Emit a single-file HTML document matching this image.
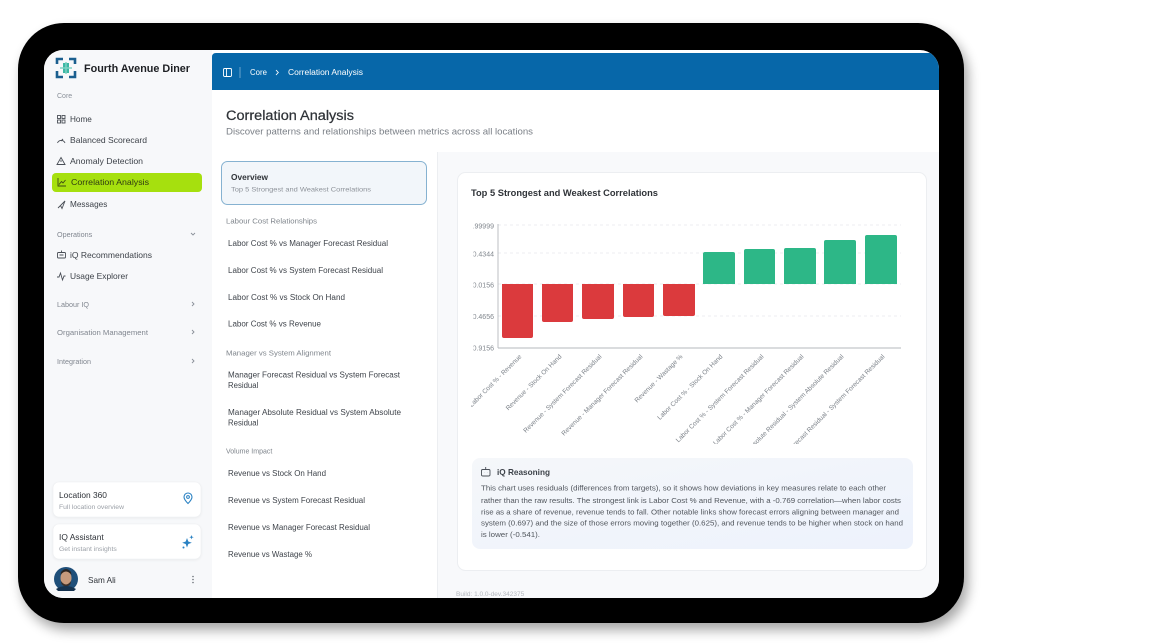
<!DOCTYPE html>
<html><head><meta charset="utf-8"><style>
html,body{margin:0;padding:0;background:#fff;width:1163px;height:643px;overflow:hidden}
svg{display:block}
text{font-family:"Liberation Sans",sans-serif}
</style></head><body>
<svg width="1163" height="643" viewBox="0 0 1163 643" xmlns="http://www.w3.org/2000/svg">
<defs>
<filter id="sh" x="-10%" y="-10%" width="120%" height="125%"><feGaussianBlur stdDeviation="6"/></filter>
<filter id="cs" x="-10%" y="-20%" width="120%" height="140%"><feGaussianBlur stdDeviation="1.5"/></filter>
<clipPath id="scr"><rect x="44" y="50" width="895" height="548" rx="19"/></clipPath>
<clipPath id="ylab"><rect x="473.5" y="200" width="40" height="160"/></clipPath>
<clipPath id="xlab"><rect x="471" y="350" width="450" height="94"/></clipPath>
<linearGradient id="rg" x1="0" y1="0" x2="1" y2="1"><stop offset="0" stop-color="#f5f7fa"/><stop offset="1" stop-color="#edf2fc"/></linearGradient>
</defs>

<!-- device shadow + frame -->
<rect x="22" y="30" width="946" height="600" rx="46" fill="#000" opacity="0.35" filter="url(#sh)"/>
<rect x="18" y="23" width="946" height="600" rx="46" fill="#000"/>

<g clip-path="url(#scr)">
<rect x="44" y="50" width="895" height="548" fill="#ffffff"/>
<rect x="44" y="50" width="168" height="548" fill="#f7f8fa"/>
<path d="M216 53 H939 V90 H212 V57 Q212 53 216 53 Z" fill="#0767a9"/>
<rect x="437" y="152" width="502" height="446" fill="#f8f9fb"/>
<line x1="437.5" y1="152" x2="437.5" y2="598" stroke="#eceef1"/>
</g>

<!-- Logo -->
<g>
<path d="M57 64 V59 H63 M69 59 H75 V64 M75 71 V77 H69 M63 77 H57 V71" fill="none" stroke="#1b5f8f" stroke-width="2.6"/>
<path d="M63 63 H69 V73 H63 Z" fill="#3bb7a4"/>
<path d="M60 68 H72 M66 62 V74" stroke="#7fd3c4" stroke-width="1.4"/>
</g>
<text x="84" y="72" font-size="11.2" font-weight="bold" fill="#1d1f23" textLength="106" lengthAdjust="spacingAndGlyphs">Fourth Avenue Diner</text>

<!-- sidebar nav -->
<text x="57" y="98" font-size="7" fill="#8a9099">Core</text>
<g fill="none" stroke="#4a4f57" stroke-width="0.9">
<rect x="57.5" y="115.5" width="3" height="3"/><rect x="62" y="115.5" width="3" height="3"/><rect x="57.5" y="120" width="3" height="3"/><rect x="62" y="120" width="3" height="3"/>
<path d="M57.5 143 A4 4 0 0 1 65 143 M61 141 L63 139"/>
<path d="M61 157.5 L65 164.5 H57 Z M61 160 V162"/>
<path d="M58 208 L65 201 L62 208.5 L60.5 205.5 Z M60.5 205.5 L65 201"/>
<rect x="57.5" y="252.5" width="8" height="5.5" rx="1"/><path d="M61.5 250.5 V252.5 M59.5 255 H63.5"/>
<path d="M57 277 L59 277 L60.5 273 L62.5 280 L64 276 L65.5 276"/>
</g>
<g font-size="8.2" fill="#3d4249">
<text x="70" y="122">Home</text>
<text x="70" y="143" textLength="77" lengthAdjust="spacingAndGlyphs">Balanced Scorecard</text>
<text x="70" y="164" textLength="73" lengthAdjust="spacingAndGlyphs">Anomaly Detection</text>
<text x="70" y="207">Messages</text>
<text x="70" y="258" textLength="82" lengthAdjust="spacingAndGlyphs">iQ Recommendations</text>
<text x="70" y="279" textLength="58" lengthAdjust="spacingAndGlyphs">Usage Explorer</text>
</g>
<rect x="52" y="173" width="150" height="19" rx="4" fill="#a6e00e"/>
<path d="M58 178 V186 H66 M59 184.5 L61.5 181.5 L63 183 L65.5 180" fill="none" stroke="#3c4a14" stroke-width="0.9"/>
<text x="71" y="185" font-size="8.2" fill="#2f3a12" textLength="78" lengthAdjust="spacingAndGlyphs">Correlation Analysis</text>

<g font-size="7.2" fill="#80868f">
<text x="57" y="237">Operations</text>
<text x="57" y="307">Labour IQ</text>
<text x="57" y="335" textLength="91" lengthAdjust="spacingAndGlyphs">Organisation Management</text>
<text x="57" y="364">Integration</text>
</g>
<g fill="none" stroke="#8a9099" stroke-width="0.9">
<path d="M191 233 L193 235 L195 233"/>
<path d="M192 302 L194 304 L192 306"/>
<path d="M192 330 L194 332 L192 334"/>
<path d="M192 359 L194 361 L192 363"/>
</g>

<!-- sidebar cards -->
<rect x="53" y="483" width="148" height="35" rx="6" fill="#000" opacity="0.06" filter="url(#cs)"/>
<rect x="53" y="482" width="148" height="35" rx="6" fill="#fff" stroke="#eef0f2" stroke-width="0.6"/>
<text x="59" y="498" font-size="8.4" fill="#2e3238">Location 360</text>
<text x="59" y="509" font-size="6.8" fill="#9ca1a8">Full location overview</text>
<path d="M188 503.5 C184.5 500 184 498.5 184 497 A4 4 0 0 1 192 497 C192 498.5 191.5 500 188 503.5 Z" fill="none" stroke="#2b82c3" stroke-width="1.1"/>
<circle cx="188" cy="497" r="1.4" fill="none" stroke="#2b82c3" stroke-width="1"/>
<rect x="53" y="525" width="148" height="35" rx="6" fill="#000" opacity="0.06" filter="url(#cs)"/>
<rect x="53" y="524" width="148" height="35" rx="6" fill="#fff" stroke="#eef0f2" stroke-width="0.6"/>
<text x="59" y="540" font-size="8.4" fill="#2e3238">IQ Assistant</text>
<text x="59" y="551" font-size="6.8" fill="#9ca1a8">Get instant insights</text>
<g fill="#2b82c3">
<path d="M187 538 L188.3 541.5 L191.8 542.8 L188.3 544 L187 547.5 L185.7 544 L182.2 542.8 L185.7 541.5 Z"/>
<path d="M191.5 535 L192.1 536.6 L193.7 537.2 L192.1 537.8 L191.5 539.4 L190.9 537.8 L189.3 537.2 L190.9 536.6 Z"/>
<circle cx="183.5" cy="547.5" r="1"/>
</g>

<!-- user -->
<circle cx="66" cy="579" r="12" fill="#1f4f7a"/>
<ellipse cx="66" cy="578" rx="5.5" ry="7" fill="#c79a7c"/>
<path d="M60.5 575 Q66 568 71.5 575 L71 572 Q66 566 61 572 Z" fill="#2b2522"/>
<path d="M61 581 Q66 588 71 581 L70.5 584 Q66 589 61.5 584 Z" fill="#3a302c"/>
<path d="M56 589 Q66 583 76 589 L74 591 H58 Z" fill="#15324f"/>
<text x="88" y="583" font-size="8.2" fill="#2e3238">Sam Ali</text>
<g fill="#6b7078"><circle cx="193" cy="576.5" r="0.8"/><circle cx="193" cy="579.5" r="0.8"/><circle cx="193" cy="582.5" r="0.8"/></g>

<!-- header content -->
<g fill="none" stroke="#fff" stroke-width="0.9">
<rect x="223.5" y="68.5" width="8" height="8" rx="1.2"/>
<line x1="226.5" y1="68.5" x2="226.5" y2="76.5"/>
</g>
<line x1="240" y1="67" x2="240" y2="78" stroke="#fff" stroke-opacity="0.5" stroke-width="0.8"/>
<text x="250" y="75" font-size="7.8" fill="#fff">Core</text>
<path d="M276 70 L278.3 72.5 L276 75" fill="none" stroke="#fff" stroke-width="0.9"/>
<text x="288" y="75" font-size="7.8" fill="#fff" textLength="75" lengthAdjust="spacingAndGlyphs">Correlation Analysis</text>

<!-- page title -->
<text x="226" y="120" font-size="14.2" fill="#2f3338" textLength="128" lengthAdjust="spacingAndGlyphs" stroke="#2f3338" stroke-width="0.25">Correlation Analysis</text>
<text x="226" y="134.5" font-size="9.4" fill="#7a7f86" textLength="307" lengthAdjust="spacingAndGlyphs">Discover patterns and relationships between metrics across all locations</text>

<!-- list panel -->
<rect x="221.5" y="161.5" width="205" height="43" rx="6" fill="#f2f6fa" stroke="#86b2d1" stroke-width="1"/>
<text x="231" y="180" font-size="8.4" font-weight="bold" fill="#2f3338" textLength="37" lengthAdjust="spacingAndGlyphs">Overview</text>
<text x="231" y="191.5" font-size="6.8" fill="#8d9299" textLength="140" lengthAdjust="spacingAndGlyphs">Top 5 Strongest and Weakest Correlations</text>

<g font-size="7" fill="#7f858c">
<text x="226" y="223.5" textLength="91" lengthAdjust="spacingAndGlyphs">Labour Cost Relationships</text>
<text x="226" y="355.5" textLength="105" lengthAdjust="spacingAndGlyphs">Manager vs System Alignment</text>
<text x="226" y="453.5">Volume Impact</text>
</g>
<g font-size="7.8" fill="#3f444b">
<text x="228" y="245.8" textLength="160" lengthAdjust="spacingAndGlyphs">Labor Cost % vs Manager Forecast Residual</text>
<text x="228" y="272.8" textLength="155" lengthAdjust="spacingAndGlyphs">Labor Cost % vs System Forecast Residual</text>
<text x="228" y="299.8" textLength="117" lengthAdjust="spacingAndGlyphs">Labor Cost % vs Stock On Hand</text>
<text x="228" y="326.3" textLength="93" lengthAdjust="spacingAndGlyphs">Labor Cost % vs Revenue</text>
<text x="228" y="377.3" textLength="172" lengthAdjust="spacingAndGlyphs">Manager Forecast Residual vs System Forecast</text>
<text x="228" y="387.8">Residual</text>
<text x="228" y="414.8" textLength="173" lengthAdjust="spacingAndGlyphs">Manager Absolute Residual vs System Absolute</text>
<text x="228" y="425.3">Residual</text>
<text x="228" y="475.8" textLength="98" lengthAdjust="spacingAndGlyphs">Revenue vs Stock On Hand</text>
<text x="228" y="502.8" textLength="137" lengthAdjust="spacingAndGlyphs">Revenue vs System Forecast Residual</text>
<text x="228" y="529.8" textLength="142" lengthAdjust="spacingAndGlyphs">Revenue vs Manager Forecast Residual</text>
<text x="228" y="556.8" textLength="84" lengthAdjust="spacingAndGlyphs">Revenue vs Wastage %</text>
</g>

<!-- chart card -->
<rect x="457.5" y="172.5" width="469" height="398" rx="8" fill="#fff" stroke="#eceef1" stroke-width="1"/>
<text x="471" y="196" font-size="9.3" font-weight="bold" fill="#2f3338" textLength="187" lengthAdjust="spacingAndGlyphs">Top 5 Strongest and Weakest Correlations</text>

<!-- grid -->
<g stroke="#e8e9eb" stroke-width="0.8" stroke-dasharray="3 3">
<line x1="498" y1="225" x2="901" y2="225"/>
<line x1="498" y1="253" x2="901" y2="253"/>
<line x1="498" y1="284" x2="901" y2="284"/>
<line x1="498" y1="316" x2="901" y2="316"/>
</g>
<line x1="498" y1="224" x2="498" y2="348" stroke="#b5b8bd" stroke-width="0.9"/>
<line x1="498" y1="348" x2="901" y2="348" stroke="#b5b8bd" stroke-width="0.9"/>
<g clip-path="url(#ylab)" font-size="7" fill="#80868d" text-anchor="end">
<text x="494" y="228.5">0.99999</text>
<text x="494" y="256.5">0.4344</text>
<text x="494" y="287.5">-0.0156</text>
<text x="494" y="319">-0.4656</text>
<text x="494" y="350.5">-0.9156</text>
</g>

<!-- bars -->
<g fill="#db3a3d">
<path d="M502 284 H533 V336 Q533 338 531 338 H504 Q502 338 502 336 Z"/>
<path d="M542 284 H573 V320 Q573 322 571 322 H544 Q542 322 542 320 Z"/>
<path d="M582 284 H614 V317 Q614 319 612 319 H584 Q582 319 582 317 Z"/>
<path d="M623 284 H654 V315 Q654 317 652 317 H625 Q623 317 623 315 Z"/>
<path d="M663 284 H695 V314 Q695 316 693 316 H665 Q663 316 663 314 Z"/>
</g>
<g fill="#2db787">
<path d="M703 284 V254 Q703 252 705 252 H733 Q735 252 735 254 V284 Z"/>
<path d="M744 284 V251 Q744 249 746 249 H773 Q775 249 775 251 V284 Z"/>
<path d="M784 284 V250 Q784 248 786 248 H814 Q816 248 816 250 V284 Z"/>
<path d="M824 284 V242 Q824 240 826 240 H854 Q856 240 856 242 V284 Z"/>
<path d="M865 284 V237 Q865 235 867 235 H895 Q897 235 897 237 V284 Z"/>
</g>

<!-- x labels -->
<g clip-path="url(#xlab)" font-size="6.5" fill="#7d838a" text-anchor="end">
<text transform="translate(522,357) rotate(-45)">Labor Cost % - Revenue</text>
<text transform="translate(562,357) rotate(-45)">Revenue - Stock On Hand</text>
<text transform="translate(602,357) rotate(-45)">Revenue - System Forecast Residual</text>
<text transform="translate(643,357) rotate(-45)">Revenue - Manager Forecast Residual</text>
<text transform="translate(683,357) rotate(-45)">Revenue - Wastage %</text>
<text transform="translate(723,357) rotate(-45)">Labor Cost % - Stock On Hand</text>
<text transform="translate(764,357) rotate(-45)">Labor Cost % - System Forecast Residual</text>
<text transform="translate(804,357) rotate(-45)">Labor Cost % - Manager Forecast Residual</text>
<text transform="translate(844,357) rotate(-45)">Manager Absolute Residual - System Absolute Residual</text>
<text transform="translate(885,357) rotate(-45)">Manager Forecast Residual - System Forecast Residual</text>
</g>

<!-- reasoning box -->
<rect x="472" y="458" width="441" height="91" rx="8" fill="url(#rg)"/>
<g fill="none" stroke="#4a4f57" stroke-width="0.9">
<rect x="481.5" y="469.5" width="8.5" height="6.5" rx="1.2"/>
<path d="M485.7 467 V469.5 M484 472.5 H484.1 M487.5 472.5 H487.6"/>
</g>
<text x="497" y="475" font-size="8.3" font-weight="bold" fill="#3d4249" textLength="53" lengthAdjust="spacingAndGlyphs">iQ Reasoning</text>
<g font-size="7.1" fill="#51565d">
<text x="481" y="490.6" textLength="405" lengthAdjust="spacingAndGlyphs">This chart uses residuals (differences from targets), so it shows how deviations in key measures relate to each other</text>
<text x="481" y="503.1" textLength="420" lengthAdjust="spacingAndGlyphs">rather than the raw results. The strongest link is Labor Cost % and Revenue, with a -0.769 correlation—when labor costs</text>
<text x="481" y="514.3" textLength="418" lengthAdjust="spacingAndGlyphs">rise as a share of revenue, revenue tends to fall. Other notable links show forecast errors aligning between manager and</text>
<text x="481" y="525.6" textLength="422" lengthAdjust="spacingAndGlyphs">system (0.697) and the size of those errors moving together (0.625), and revenue tends to be higher when stock on hand</text>
<text x="481" y="536.8" textLength="59" lengthAdjust="spacingAndGlyphs">is lower (-0.541).</text>
</g>

<!-- build -->
<g clip-path="url(#scr)">
<text x="456" y="596" font-size="6.5" fill="#b4b8be">Build: 1.0.0-dev.342375</text>
</g>
</svg>
</body></html>
